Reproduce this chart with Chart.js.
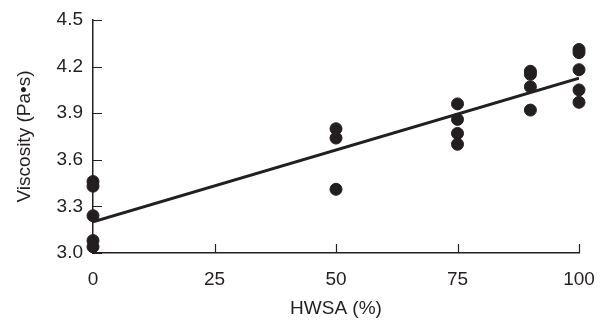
<!DOCTYPE html>
<html>
<head>
<meta charset="utf-8">
<script src="https://cdn.jsdelivr.net/npm/chart.js@4"></script>
<style>
  html, body { margin: 0; padding: 0; background: #fff; }
  #wrap { width: 606px; height: 320px; }
</style>
</head>
<body>
<div id="wrap"><canvas id="chart" width="606" height="320"></canvas></div>
<script>
// HWSA content (%) and measured viscosity (Pa·s)
const hwsa = [0, 0, 0, 0, 0, 50, 50, 50, 75, 75, 75, 75, 90, 90, 90, 90, 100, 100, 100, 100, 100]
const viscosity = [3.46, 3.43, 3.24, 3.08, 3.04, 3.80, 3.74, 3.41, 3.96, 3.86, 3.77, 3.70, 4.17, 4.15, 4.07, 3.92, 4.31, 4.29, 4.18, 4.05, 3.97]

// linear fit line endpoints
const fit_x = [0, 100]
const fit_y = [3.20, 4.125]

const x_ticks = [0, 25, 50, 75, 100]
const y_ticks = [3.0, 3.3, 3.6, 3.9, 4.2, 4.5]

const ink = "#231f20"
const font = { family: "'Liberation Sans', Arial, sans-serif", size: 19 }

// ticks in this figure point into the plot
const inward_ticks = {
	id: 'inward_ticks',
	afterDraw(chart) {
		const ctx = chart.ctx
		const xs = chart.scales.x
		const ys = chart.scales.y
		const len = 9
		ctx.save()
		ctx.strokeStyle = ink
		ctx.lineWidth = 1.2
		ctx.beginPath()
		x_ticks.forEach(v => {
			const px = Math.round(xs.getPixelForValue(v)) + 0.5
			ctx.moveTo(px, ys.bottom)
			ctx.lineTo(px, ys.bottom - len)
		})
		y_ticks.forEach(v => {
			const py = Math.round(ys.getPixelForValue(v)) + 0.5
			ctx.moveTo(xs.left, py)
			ctx.lineTo(xs.left + len, py)
		})
		ctx.stroke()
		ctx.restore()
	}
}

const chart = new Chart(document.getElementById('chart'), {
	type: 'scatter',
	data: {
		datasets: [{
			label: 'data',
			data: hwsa.map((x, i) => ({ x: x, y: viscosity[i] })),
			backgroundColor: ink,
			borderColor: ink,
			pointRadius: 6,
			pointHoverRadius: 6,
			clip: false,
			order: 1
		}, {
			label: 'fit',
			type: 'line',
			data: fit_x.map((x, i) => ({ x: x, y: fit_y[i] })),
			borderColor: ink,
			borderWidth: 3,
			pointRadius: 0,
			fill: false,
			order: 2
		}]
	},
	options: {
		responsive: false,
		animation: false,
		layout: { padding: { top: 20, right: 27, left: 0, bottom: 0 } },
		plugins: {
			legend: { display: false },
			tooltip: { enabled: false }
		},
		scales: {
			x: {
				type: 'linear',
				min: 0,
				max: 100,
				afterBuildTicks: s => { s.ticks = x_ticks.map(v => ({ value: v })) },
				afterFit: s => { s.height = 67; s.paddingRight = 0; s.paddingLeft = 0 },
				grid: { display: false, drawTicks: false },
				border: { display: true, color: ink, width: 1.5 },
				ticks: { color: ink, font: font, padding: 15, maxRotation: 0 },
				title: { display: true, text: 'HWSA (%)', color: ink, font: font, padding: { top: 2, bottom: 0 } }
			},
			y: {
				type: 'linear',
				min: 3.0,
				max: 4.5,
				afterBuildTicks: s => { s.ticks = y_ticks.map(v => ({ value: v })) },
				afterFit: s => { s.width = 93; s.paddingTop = 0; s.paddingBottom = 0 },
				grid: { display: false, drawTicks: false },
				border: { display: true, color: ink, width: 1.5 },
				ticks: { color: ink, font: font, padding: 10, callback: v => v.toFixed(1) },
				title: { display: true, text: 'Viscosity (Pa•s)', color: ink, font: font, padding: { top: 13, bottom: 0 } }
			}
		}
	},
	plugins: [inward_ticks]
})
</script>
</body>
</html>
